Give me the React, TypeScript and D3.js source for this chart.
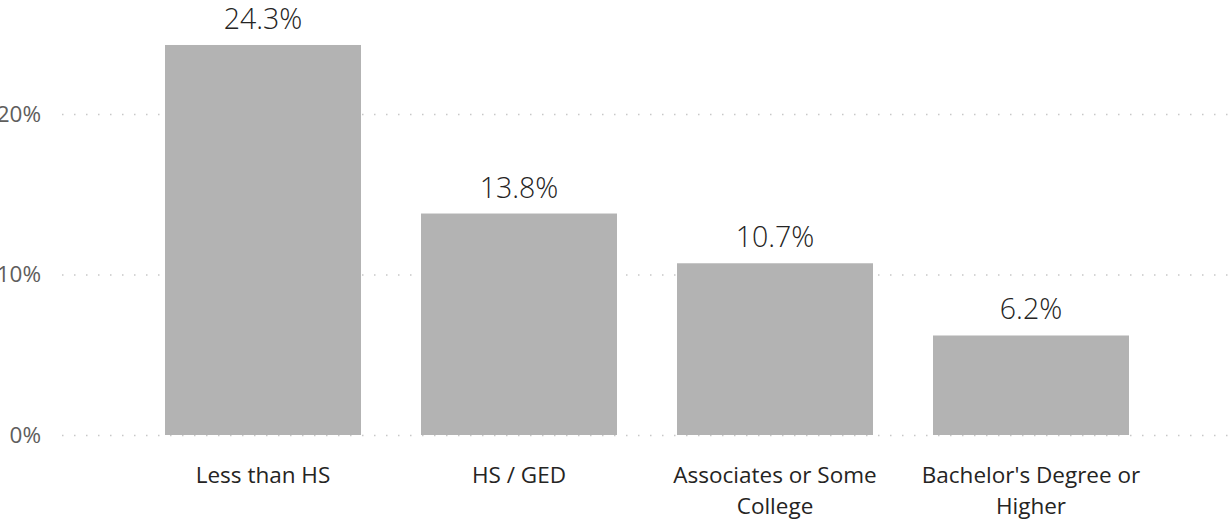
import { useEffect, useRef } from 'react';
import * as d3 from 'd3';

// data
const categories = ['Less than HS', 'HS / GED', 'Associates or Some College', "Bachelor's Degree or Higher"];
const rates = [24.3, 13.8, 10.7, 6.2];
const yTicks = [0, 10, 20];

export default function App() {
    const ref = useRef<SVGSVGElement>(null);

    useEffect(() => {
        const width = 1229;
        const font = "'Open Sans', 'Noto Sans', sans-serif";

        const svg = d3.select(ref.current);
        svg.selectAll('*').remove();

        // scales
        const x = d3.scaleBand<string>()
            .domain(categories)
            .range([135, 1159])
            .paddingInner(60 / 256)
            .paddingOuter(30 / 256);

        const y = d3.scaleLinear()
            .domain([0, 25])
            .range([435, 33.75]);

        // dotted gridlines
        svg.append('g')
            .selectAll('line')
            .data(yTicks).enter()
            .append('line')
            .attr('x1', 62)
            .attr('x2', width)
            .attr('y1', d => y(d) + 0.5)
            .attr('y2', d => y(d) + 0.5)
            .attr('stroke', '#c8c8c8')
            .attr('stroke-width', 1.5)
            .attr('stroke-dasharray', '1.5,10.5');

        // y tick labels
        svg.append('g')
            .selectAll('text')
            .data(yTicks).enter()
            .append('text')
            .attr('x', 41)
            .attr('y', d => y(d))
            .attr('dy', '0.35em')
            .attr('text-anchor', 'end')
            .attr('font-family', font)
            .attr('font-size', 22.5)
            .attr('fill', '#605e5c')
            .text(d => d + '%');

        // bars
        svg.append('g')
            .selectAll('rect')
            .data(rates).enter()
            .append('rect')
            .attr('x', (d, i) => x(categories[i])!)
            .attr('y', d => y(d))
            .attr('width', x.bandwidth())
            .attr('height', d => y(0) - y(d))
            .attr('fill', '#b3b3b3');

        // value labels
        svg.append('g')
            .selectAll('text')
            .data(rates).enter()
            .append('text')
            .attr('x', (d, i) => x(categories[i])! + x.bandwidth() / 2)
            .attr('y', d => y(d) - 16)
            .attr('text-anchor', 'middle')
            .attr('font-family', font)
            .attr('font-size', 28.5)
            .attr('font-weight', 300)
            .attr('fill', '#252423')
            .text(d => d.toFixed(1) + '%');

        // category labels, wrapped to the band step
        const labels = svg.append('g')
            .selectAll('text')
            .data(categories).enter()
            .append('text')
            .attr('text-anchor', 'middle')
            .attr('font-family', font)
            .attr('font-size', 22.5)
            .attr('fill', '#252423');

        labels.each(function(d) {
            const text = d3.select(this);
            const cx = x(d)! + x.bandwidth() / 2;
            const words = d.split(' ');
            let line: string[] = [];
            let lineNo = 0;
            let tspan = text.append('tspan').attr('x', cx).attr('y', 483);
            words.forEach(function(w) {
                line.push(w);
                tspan.text(line.join(' '));
                if ((tspan.node() as SVGTSpanElement).getComputedTextLength() > 240 && line.length > 1) {
                    line.pop();
                    tspan.text(line.join(' '));
                    line = [w];
                    lineNo += 1;
                    tspan = text.append('tspan').attr('x', cx).attr('y', 483 + lineNo * 31).text(w);
                }
            });
        });
    }, []);

    return (
        <svg ref={ref} width={1229} height={525}
            style={{ position: 'absolute', left: 0, top: 0, background: '#fff' }} />
    );
}
